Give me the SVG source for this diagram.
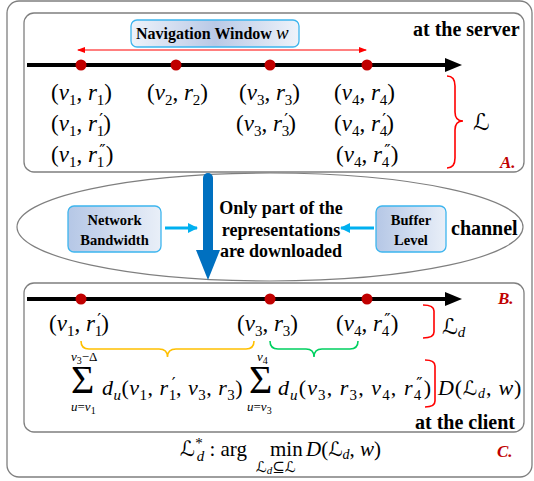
<svg xmlns="http://www.w3.org/2000/svg" width="534" height="481" viewBox="0 0 534 481">
<style>
.frame{fill:#fff;stroke:#7f7f7f;stroke-width:1.3}
.m{font-family:"Liberation Serif","Times New Roman",serif;font-size:23px;fill:#000}
.f{font-size:22px}
.big{font-size:40px}
.o{font-size:21px}
.i{font-style:italic}
.s{font-size:15px}
.sl{font-size:13px}
.sb{font-size:15px}
.p{font-family:"DejaVu Serif",serif;font-size:17px;font-style:normal}
.b{font-family:"Liberation Serif","Times New Roman",serif;font-weight:bold;fill:#000}
.lab{font-family:"Liberation Serif","Times New Roman",serif;font-weight:bold;font-style:italic;fill:#c00000;font-size:17px}
.cal{font-family:"DejaVu Serif","DejaVu Sans",serif;font-style:normal}
.box{stroke:#3db5ee;stroke-width:1.3}
</style>
<defs>
<linearGradient id="gNav" x1="0" y1="0" x2="1" y2="0">
<stop offset="0" stop-color="#eef3fa"/><stop offset="0.5" stop-color="#b9c9e6"/><stop offset="1" stop-color="#eef3fa"/>
</linearGradient>
<linearGradient id="gBox" x1="0" y1="0" x2="1" y2="0">
<stop offset="0" stop-color="#b5c7e6"/><stop offset="1" stop-color="#e9eff8"/>
</linearGradient>
<marker id="rh" markerWidth="8" markerHeight="6" refX="7" refY="3" orient="auto-start-reverse" markerUnits="userSpaceOnUse">
<path d="M0,0 L8,3 L0,6 Z" fill="#ff0000"/>
</marker>
<marker id="bh" markerWidth="10" markerHeight="10" refX="9" refY="5" orient="auto" markerUnits="userSpaceOnUse">
<path d="M0,0 L10,5 L0,10 Z" fill="#00b0f0"/>
</marker>
</defs>

<rect class="frame" x="7" y="1" width="525" height="476" rx="12"/>

<g id="serverBox">
<rect class="frame" x="24" y="13" width="500" height="159" rx="10"/>
<text class="b" x="413" y="36" font-size="20">at the server</text>
<text class="lab" x="500" y="168">A.</text>
</g>

<g id="navWindow">
<rect class="box" x="131" y="20" width="168" height="27" rx="6" fill="url(#gNav)"/>
<text class="b" x="136" y="39" font-size="16">Navigation Window <tspan font-weight="normal" font-style="italic" font-size="19">w</tspan></text>
</g>

<g id="serverTimeline">
<line x1="27" y1="65" x2="447" y2="65" stroke="#000" stroke-width="4"/>
<polygon points="445,58 462,65 445,72" fill="#000"/>
<circle cx="81" cy="65" r="5.5" fill="#c00000"/>
<circle cx="176" cy="65" r="5.5" fill="#c00000"/>
<circle cx="270" cy="65" r="5.5" fill="#c00000"/>
<circle cx="367" cy="65" r="5.5" fill="#c00000"/>
</g>

<g id="serverReps">
<text class="m" x="51" y="100">(<tspan class="i">v</tspan><tspan class="s" dy="5">1</tspan><tspan dy="-5">, </tspan><tspan class="i">r</tspan><tspan class="s" dy="5">1</tspan><tspan dy="-5">)</tspan></text>
<text class="m" x="147" y="100">(<tspan class="i">v</tspan><tspan class="s" dy="5">2</tspan><tspan dy="-5">, </tspan><tspan class="i">r</tspan><tspan class="s" dy="5">2</tspan><tspan dy="-5">)</tspan></text>
<text class="m" x="239" y="100">(<tspan class="i">v</tspan><tspan class="s" dy="5">3</tspan><tspan dy="-5">, </tspan><tspan class="i">r</tspan><tspan class="s" dy="5">3</tspan><tspan dy="-5">)</tspan></text>
<text class="m" x="334" y="100">(<tspan class="i">v</tspan><tspan class="s" dy="5">4</tspan><tspan dy="-5">, </tspan><tspan class="i">r</tspan><tspan class="s" dy="5">4</tspan><tspan dy="-5">)</tspan></text>

<text class="m" x="51" y="131">(<tspan class="i">v</tspan><tspan class="s" dy="5">1</tspan><tspan dy="-5">, </tspan><tspan class="i">r</tspan><tspan class="s" dy="5">1</tspan><tspan class="p" dx="-5" dy="-11">′</tspan><tspan dy="6">)</tspan></text>
<text class="m" x="236" y="131">(<tspan class="i">v</tspan><tspan class="s" dy="5">3</tspan><tspan dy="-5">, </tspan><tspan class="i">r</tspan><tspan class="s" dy="5">3</tspan><tspan class="p" dx="-5" dy="-11">′</tspan><tspan dy="6">)</tspan></text>
<text class="m" x="334" y="131">(<tspan class="i">v</tspan><tspan class="s" dy="5">4</tspan><tspan dy="-5">, </tspan><tspan class="i">r</tspan><tspan class="s" dy="5">4</tspan><tspan class="p" dx="-5" dy="-11">′</tspan><tspan dy="6">)</tspan></text>

<text class="m" x="51" y="162">(<tspan class="i">v</tspan><tspan class="s" dy="5">1</tspan><tspan dy="-5">, </tspan><tspan class="i">r</tspan><tspan class="s" dy="5">1</tspan><tspan class="p" dx="-5" dy="-11">″</tspan><tspan dy="6">)</tspan></text>
<text class="m" x="336" y="162">(<tspan class="i">v</tspan><tspan class="s" dy="5">4</tspan><tspan dy="-5">, </tspan><tspan class="i">r</tspan><tspan class="s" dy="5">4</tspan><tspan class="p" dx="-5" dy="-11">″</tspan><tspan dy="6">)</tspan></text>
</g>

<g id="setL">
<path d="M447,76 Q455,76 455,86 L455,112 Q455,121 463,121 Q455,121 455,130 L455,158 Q455,168 447,168" fill="none" stroke="#ff0000" stroke-width="1.6"/>
<text class="m cal" x="473" y="130">ℒ</text>
</g>

<g id="channel">
<ellipse cx="270" cy="227" rx="253" ry="54" fill="#fff" stroke="#7f7f7f" stroke-width="1.2"/>
<text class="b" x="451" y="235" font-size="20">channel</text>
<text class="b" font-size="18" text-anchor="middle"><tspan x="281" y="214">Only part of the</tspan><tspan x="281" y="236">representations</tspan><tspan x="281" y="257">are downloaded</tspan></text>
</g>

<g id="networkBandwidth">
<rect class="box" x="68" y="206" width="93" height="46" rx="6" fill="url(#gBox)"/>
<text class="b" font-size="14.5" text-anchor="middle"><tspan x="114.5" y="225">Network</tspan><tspan x="114.5" y="245">Bandwidth</tspan></text>
</g>

<g id="bufferLevel">
<rect class="box" x="376" y="206" width="70" height="46" rx="6" fill="url(#gBox)"/>
<text class="b" font-size="14.5" text-anchor="middle"><tspan x="411" y="225">Buffer</tspan><tspan x="411" y="245">Level</tspan></text>
</g>

<g id="clientBox">
<rect class="frame" x="24" y="283" width="500" height="149" rx="10"/>
<text class="b" x="415" y="429" font-size="20">at the client</text>
<text class="lab" x="498" y="304">B.</text>
</g>

<g id="clientTimeline">
<line x1="27" y1="299" x2="447" y2="299" stroke="#000" stroke-width="4"/>
<polygon points="445,292 462,299 445,306" fill="#000"/>
<circle cx="81" cy="299" r="5.5" fill="#c00000"/>
<circle cx="270" cy="299" r="5.5" fill="#c00000"/>
<circle cx="367" cy="299" r="5.5" fill="#c00000"/>
</g>

<g id="clientReps">
<text class="m" x="49" y="331">(<tspan class="i">v</tspan><tspan class="s" dy="5">1</tspan><tspan dy="-5">, </tspan><tspan class="i">r</tspan><tspan class="s" dy="5">1</tspan><tspan class="p" dx="-5" dy="-11">′</tspan><tspan dy="6">)</tspan></text>
<text class="m" x="237" y="331">(<tspan class="i">v</tspan><tspan class="s" dy="5">3</tspan><tspan dy="-5">, </tspan><tspan class="i">r</tspan><tspan class="s" dy="5">3</tspan><tspan dy="-5">)</tspan></text>
<text class="m" x="336" y="331">(<tspan class="i">v</tspan><tspan class="s" dy="5">4</tspan><tspan dy="-5">, </tspan><tspan class="i">r</tspan><tspan class="s" dy="5">4</tspan><tspan class="p" dx="-5" dy="-11">″</tspan><tspan dy="6">)</tspan></text>
<path d="M423,305 Q434,305 434,311 L434,332 Q434,338 423,338" fill="none" stroke="#ff0000" stroke-width="1.6"/>
<text class="m" x="442" y="334"><tspan class="cal" font-size="22">ℒ</tspan><tspan class="i" font-size="15" dy="3">d</tspan></text>
</g>

<g id="distortion">
<text class="m big" x="71" y="393">Σ</text>
<text class="m sl" x="71" y="361"><tspan class="i">v</tspan><tspan font-size="10" dy="3">3</tspan><tspan dy="-3">−Δ</tspan></text>
<text class="m sl" x="71" y="411"><tspan class="i">u</tspan>=<tspan class="i">v</tspan><tspan font-size="10" dy="3">1</tspan></text>
<text class="m f" x="102" y="395" letter-spacing="0.5"><tspan class="i">d</tspan><tspan class="s i" dy="5">u</tspan><tspan dy="-5">(</tspan><tspan class="i">v</tspan><tspan class="s" dy="5">1</tspan><tspan dy="-5">, </tspan><tspan class="i">r</tspan><tspan class="s" dy="5">1</tspan><tspan class="p" dx="-5" dy="-11">′</tspan><tspan dy="6">, </tspan><tspan class="i">v</tspan><tspan class="s" dy="5">3</tspan><tspan dy="-5">, </tspan><tspan class="i">r</tspan><tspan class="s" dy="5">3</tspan><tspan dy="-5">)</tspan></text>
<text class="m big" x="249" y="393">Σ</text>
<text class="m sl" x="257" y="361"><tspan class="i">v</tspan><tspan font-size="10" dy="3">4</tspan></text>
<text class="m sl" x="247" y="411"><tspan class="i">u</tspan>=<tspan class="i">v</tspan><tspan font-size="10" dy="3">3</tspan></text>
<text class="m f" x="278" y="395" letter-spacing="1.1"><tspan class="i">d</tspan><tspan class="s i" dy="5">u</tspan><tspan dy="-5">(</tspan><tspan class="i">v</tspan><tspan class="s" dy="5">3</tspan><tspan dy="-5">, </tspan><tspan class="i">r</tspan><tspan class="s" dy="5">3</tspan><tspan dy="-5">, </tspan><tspan class="i">v</tspan><tspan class="s" dy="5">4</tspan><tspan dy="-5">, </tspan><tspan class="i">r</tspan><tspan class="s" dy="5">4</tspan><tspan class="p" dx="-6" dy="-11">″</tspan><tspan dy="6">)</tspan></text>
<path d="M425,360 Q435,360 435,366 L435,401 Q435,407 425,407" fill="none" stroke="#ff0000" stroke-width="1.6"/>
<text class="m f" x="438" y="395" letter-spacing="0.8"><tspan class="i">D</tspan>(<tspan class="cal" font-size="20">ℒ</tspan><tspan class="i" font-size="14" dy="3">d</tspan><tspan dy="-3">, </tspan><tspan class="i">w</tspan>)</text>
</g>

<g id="objective">
<text class="m o" x="180" y="456"><tspan class="cal" font-size="21">ℒ</tspan><tspan class="s" dy="-8">*</tspan><tspan class="s i" dx="-6" dy="13">d</tspan><tspan dy="-5"> : arg </tspan><tspan x="270">min</tspan><tspan x="306" class="i">D</tspan>(<tspan class="cal" font-size="20">ℒ</tspan><tspan class="i" font-size="14" dy="3">d</tspan><tspan dy="-3">, </tspan><tspan class="i">w</tspan>)</text>
<text class="m sb" x="256" y="472"><tspan class="cal">ℒ</tspan><tspan class="i" font-size="11" dy="2">d</tspan><tspan dy="-2" class="cal">⊆ℒ</tspan></text>
<text class="lab" x="497" y="457">C.</text>
</g>

<g id="connectors">
<line x1="78" y1="50" x2="366" y2="50" stroke="#ff0000" stroke-width="1.2" marker-start="url(#rh)" marker-end="url(#rh)"/>
<path d="M208,178 L208,252" stroke="#0070c0" stroke-width="10" stroke-linecap="round" fill="none"/>
<polygon points="196,250 220,250 208,280" fill="#0070c0"/>
<line x1="165" y1="228" x2="197" y2="228" stroke="#00b0f0" stroke-width="3" marker-end="url(#bh)"/>
<line x1="374" y1="228" x2="341" y2="228" stroke="#00b0f0" stroke-width="3" marker-end="url(#bh)"/>
<path d="M81,341 Q81,349 89,349 L159,349 Q167.5,349 167.5,357 Q167.5,349 176,349 L246,349 Q254,349 254,341" fill="none" stroke="#ffc000" stroke-width="1.6"/>
<path d="M270,341 Q270,349 278,349 L306,349 Q314,349 314,357 Q314,349 322,349 L350,349 Q358,349 358,341" fill="none" stroke="#00d060" stroke-width="1.6"/>
</g>
</svg>
